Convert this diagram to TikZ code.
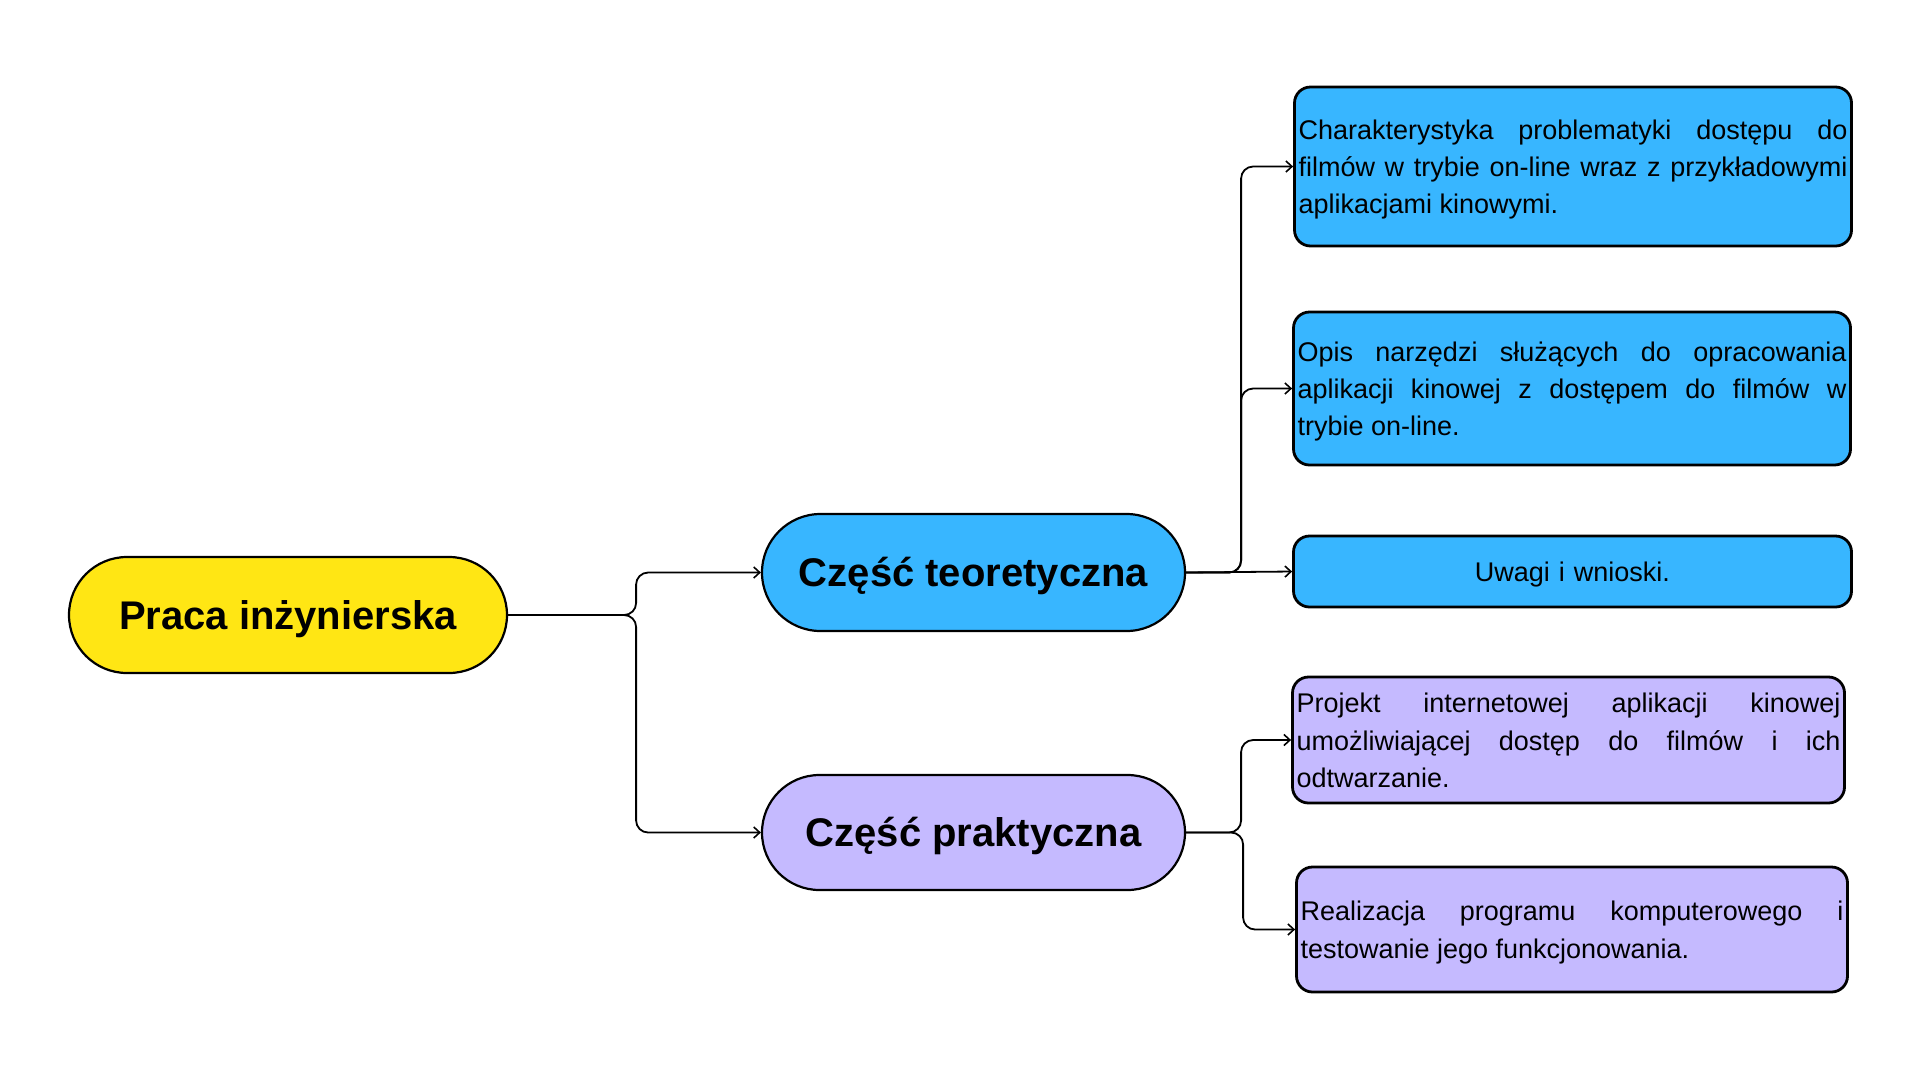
\documentclass[tikz,border=0pt]{standalone}
\usepackage{fontspec}
\setmainfont{Liberation Sans}
\usetikzlibrary{shapes.misc,arrows.meta}
\definecolor{cyel}{HTML}{FFE614}
\definecolor{cblue}{HTML}{38B6FF}
\definecolor{cpurp}{HTML}{C5BAFF}
\newcommand{\lstrut}{\rule[-6pt]{0pt}{32pt}}
\tikzset{
  pill/.style={rounded rectangle, draw=black, line width=2.2pt, inner sep=0pt,
    text height=31pt, text depth=3pt,
    font=\fontsize{40}{48}\selectfont\bfseries},
  leaf/.style={draw=black, line width=2.8pt, rounded corners=16pt, inner xsep=4pt, inner ysep=0pt,
    font=\fontsize{27}{37.4}\selectfont, align=justify},
  conn/.style={line width=1.8pt, rounded corners=12pt, -{Straight Barb[length=6pt,width=11pt,line width=1.6pt]}}
}
\begin{document}
\begin{tikzpicture}[x=1pt,y=-1pt]
\useasboundingbox (0,0) rectangle (1920,1080);
\hbadness=10000 \hyphenpenalty=10000 \exhyphenpenalty=10000
\node[pill, fill=cyel, minimum width=438pt, minimum height=116pt] (main) at (288,615) {Praca inżynierska};
\node[pill, fill=cblue, minimum width=423pt, minimum height=117pt] (teo) at (973.5,572.5) {Część teoretyczna};
\node[pill, fill=cpurp, minimum width=423pt, minimum height=115pt] (prak) at (973.5,832.5) {Część praktyczna};

\node[leaf, fill=cblue, text width=549pt, minimum height=159pt] (b1) at (1573,166.5)
  {\lstrut Charakterystyka problematyki dostępu do\linebreak filmów w trybie on-line wraz z przykładowymi\linebreak aplikacjami kinowymi.\lstrut};
\node[leaf, fill=cblue, text width=549pt, minimum height=153pt] (b2) at (1572,388.5)
  {\lstrut Opis narzędzi służących do opracowania\linebreak aplikacji kinowej z dostępem do filmów w\linebreak trybie on-line.\lstrut};
\node[leaf, fill=cblue, text width=550pt, minimum height=71pt, align=center] (b3) at (1572.5,571.5)
  {\lstrut Uwagi i wnioski.\lstrut};
\node[leaf, fill=cpurp, text width=544pt, minimum height=126pt] (b4) at (1568.5,740)
  {\lstrut Projekt internetowej aplikacji kinowej\linebreak umożliwiającej dostęp do filmów i ich\linebreak odtwarzanie.\lstrut};
\node[leaf, fill=cpurp, text width=543pt, minimum height=125pt] (b5) at (1572,929.5)
  {\lstrut Realizacja programu komputerowego i\linebreak testowanie jego funkcjonowania.\lstrut};

\draw[conn] (main.east) -- ++(128,0) |- (teo.west);
\draw[conn] (main.east) -- ++(128,0) |- (prak.west);
\draw[conn] (teo.east) -- ++(55,0) |- (b1.west);
\draw[conn] (teo.east) -- ++(55,0) |- (b2.west);
\draw[conn] (teo.east) -- (b3.west);
\draw[conn] (prak.east) -- ++(55,0) |- (b4.west);
\draw[conn] (prak.east) -- ++(57,0) |- (b5.west);
\end{tikzpicture}
\end{document}
